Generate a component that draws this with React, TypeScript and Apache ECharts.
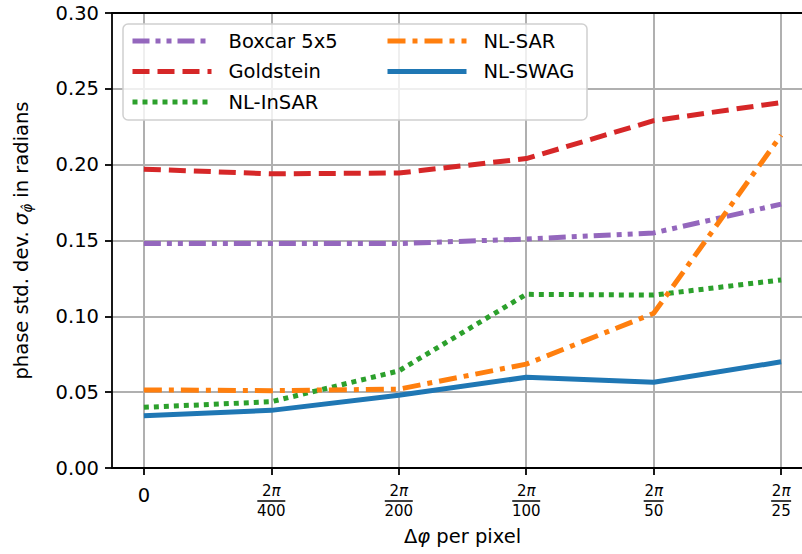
import React, { useEffect, useRef } from "react";
import * as echarts from "echarts";

const xPositions = [0, 1, 2, 3, 4, 5];
const xDenominators = ["", "400", "200", "100", "50", "25"];
const seriesNames = ["Boxcar 5x5", "Goldstein", "NL-InSAR", "NL-SAR", "NL-SWAG"];
const boxcar = [0.148, 0.148, 0.148, 0.151, 0.155, 0.174];
const goldstein = [0.197, 0.194, 0.1945, 0.204, 0.229, 0.241];
const nlInsar = [0.04, 0.0437, 0.064, 0.1145, 0.114, 0.124];
const nlSar = [0.0515, 0.051, 0.052, 0.0685, 0.102, 0.2195];
const nlSwag = [0.0345, 0.038, 0.048, 0.0598, 0.0565, 0.07];

const FONT = "DejaVu Sans";

export default function App() {
  const ref = useRef<HTMLDivElement>(null);
  useEffect(() => {
    if (!ref.current) return;
    const chart = echarts.init(ref.current, undefined, { renderer: "svg" });
    const values = [boxcar, goldstein, nlInsar, nlSar, nlSwag];
    const colors = ["#9467bd", "#d62728", "#2ca02c", "#ff7f0e", "#1f77b4"];
    const dashes: any[] = [
      [17, 6, 5, 6, 5, 6],
      [17, 8],
      [5, 5],
      [18, 7, 5, 7],
      "solid",
    ];
    const series = seriesNames.map((name, k) => ({
      name,
      type: "line",
      symbol: "none",
      data: values[k].map((v, i) => [xPositions[i], v]),
      lineStyle: { color: colors[k], width: 5, type: dashes[k], cap: "butt" },
      itemStyle: { color: colors[k] },
      z: 2 + k * 0.1,
    }));
    const legendText = {
      fontFamily: FONT,
      fontSize: 19.5,
      color: "#000",
      rich: {
        g: { width: 12 },
        t: { fontFamily: FONT, fontSize: 19.5, color: "#000", lineHeight: 20 },
      },
    };
    const legendCommon = {
      orient: "vertical",
      top: 31,
      padding: 0,
      itemWidth: 79,
      itemHeight: 20,
      itemGap: 10.5,
      formatter: (n: string) => `{g|}{t|${n}}`,
      textStyle: legendText,
      itemStyle: { opacity: 0 },
      lineStyle: { width: 5 },
      z: 10,
    };
    const tickFont = { fontFamily: FONT, color: "#000" };
    chart.setOption({
      animation: false,
      backgroundColor: "#ffffff",
      grid: {
        left: 112,
        right: -11,
        top: 13,
        bottom: 86,
        outerBoundsMode: "none",
        containLabel: false,
      },
      legend: [
        { ...legendCommon, left: 130, data: seriesNames.slice(0, 3) },
        { ...legendCommon, left: 385, data: seriesNames.slice(3) },
      ],
      graphic: [
        {
          type: "rect",
          z: 8,
          shape: { x: 123, y: 24, width: 464, height: 96, r: 5 },
          style: { fill: "rgba(255,255,255,0.8)", stroke: "#d0d0d0", lineWidth: 1.5 },
        },
      ],
      xAxis: [
        {
          type: "value",
          min: -0.25,
          max: 5.25,
          axisLine: { onZero: false, lineStyle: { color: "#000", width: 1.8 } },
          axisTick: {
            show: true,
            length: 7,
            customValues: xPositions,
            lineStyle: { color: "#000", width: 1.8 },
          },
          splitLine: { show: true, lineStyle: { color: "#b0b0b0", width: 2 } },
          axisLabel: {
            customValues: xPositions,
            margin: 17,
            ...tickFont,
            formatter: (v: number) => {
              const i = Math.round(v);
              const d = xDenominators[i];
              if (!d) return "{z|0}";
              return `{n|2}{p|π}\n{l${d.length}|}\n{d|${d}}`;
            },
            rich: {
              z: { fontFamily: FONT, fontSize: 19.5, lineHeight: 20, align: "center", color: "#000" },
              n: { fontFamily: FONT, fontSize: 15, lineHeight: 12, align: "center", color: "#000" },
              p: { fontFamily: FONT, fontSize: 15, fontStyle: "italic", lineHeight: 12, align: "center", color: "#000" },
              l3: { width: 28, height: 1.5, lineHeight: 8, backgroundColor: "#000", align: "center" },
              l2: { width: 20, height: 1.5, lineHeight: 8, backgroundColor: "#000", align: "center" },
              d: { fontFamily: FONT, fontSize: 15, lineHeight: 12, align: "center", color: "#000" },
            },
          },
          name: "{a|Δ}{i|φ}{a| per pixel}",
          nameLocation: "middle",
          nameGap: 58,
          nameTextStyle: {
            fontFamily: FONT,
            fontSize: 19.5,
            color: "#000",
            rich: {
              a: { fontFamily: FONT, fontSize: 19.5, color: "#000" },
              i: { fontFamily: FONT, fontSize: 19.5, fontStyle: "italic", color: "#000" },
            },
          },
        },
        {
          type: "value",
          position: "top",
          min: -0.25,
          max: 5.25,
          axisLine: { show: true, onZero: false, lineStyle: { color: "#000", width: 1.8 } },
          axisTick: { show: false },
          axisLabel: { show: false },
          splitLine: { show: false },
        },
      ],
      yAxis: {
        type: "value",
        min: 0,
        max: 0.3,
        interval: 0.05,
        axisLine: { show: true, onZero: false, lineStyle: { color: "#000", width: 1.8 } },
        axisTick: { show: true, length: 7, lineStyle: { color: "#000", width: 1.8 } },
        splitLine: { show: true, lineStyle: { color: "#b0b0b0", width: 2 } },
        axisLabel: {
          ...tickFont,
          fontSize: 19.5,
          margin: 13,
          formatter: (v: number) => v.toFixed(2),
        },
        name: "{a|phase std. dev. }{m|σ}{s|φ̂}{a| in radians}",
        nameLocation: "middle",
        nameGap: 78,
        nameTextStyle: {
          fontFamily: FONT,
          fontSize: 19.5,
          color: "#000",
          rich: {
            a: { fontFamily: FONT, fontSize: 19.5, color: "#000", lineHeight: 26, verticalAlign: "middle" },
            m: { fontFamily: FONT, fontSize: 19.5, fontStyle: "italic", color: "#000", lineHeight: 26, verticalAlign: "middle" },
            s: { fontFamily: FONT, fontSize: 13.5, fontStyle: "italic", color: "#000", lineHeight: 26, verticalAlign: "bottom", padding: [8, 0, 0, 0] },
          },
        },
      },
      series,
    });
    return () => chart.dispose();
  }, []);
  return <div ref={ref} style={{ width: 802, height: 554, position: "absolute", left: 0, top: 0 }} />;
}
